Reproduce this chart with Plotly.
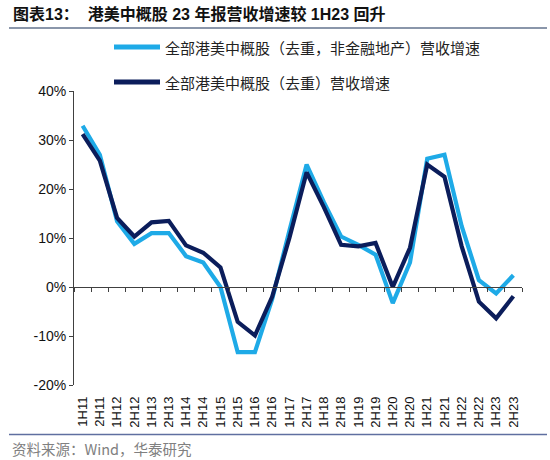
import plotly.graph_objects as go

periods = ["1H11", "2H11", "1H12", "2H12", "1H13", "2H13", "1H14", "2H14", "1H15", "2H15",
           "1H16", "2H16", "1H17", "2H17", "1H18", "2H18", "1H19", "2H19", "1H20", "2H20",
           "1H21", "2H21", "1H22", "2H22", "1H23", "2H23"]
non_fin = [32.9, 27.0, 13.4, 8.8, 11.0, 11.0, 6.3, 5.0, 0.0, -13.3,
           -13.3, -2.5, 11.5, 25.0, 17.3, 10.3, 8.6, 6.6, -3.3, 5.0,
           26.2, 27.0, 12.4, 1.4, -1.3, 2.4]
all_cos = [31.2, 25.8, 14.1, 10.3, 13.2, 13.5, 8.5, 7.0, 4.0, -7.1,
           -9.9, -2.0, 10.0, 23.4, 16.3, 8.6, 8.3, 9.0, 0.0, 8.0,
           25.0, 22.5, 8.3, -3.0, -6.4, -1.9]
name_non_fin = "全部港美中概股（去重，非金融地产）营收增速"
name_all = "全部港美中概股（去重）营收增速"
y_ticks = [-20, -10, 0, 10, 20, 30, 40]
y_ticktext = [f"{v}%" for v in y_ticks]

LIGHT = "#1EAAE7"
DARK = "#0B1D5B"
AXIS = "#404040"
LATIN = "Liberation Sans, Arial, Noto Sans CJK SC"
CJK = "Noto Sans CJK SC, Liberation Sans"

# plot area in pixels: x 74..522, y 91..385
L, R, T, B = 74, 522, 91, 385
W, H = R - L, B - T


def px(x):
    return (x - L) / W


def py(y):
    return (B - y) / H


fig = go.Figure()
# zero-line axis helper (invisible)
fig.add_trace(go.Scatter(x=periods, y=[0] * len(periods), mode="lines",
                         line=dict(width=0, color="rgba(0,0,0,0)"),
                         xaxis="x2", yaxis="y", hoverinfo="skip", showlegend=False))
fig.add_trace(go.Scatter(x=periods, y=non_fin, mode="lines", name=name_non_fin,
                         line=dict(color=LIGHT, width=4.2)))
fig.add_trace(go.Scatter(x=periods, y=all_cos, mode="lines", name=name_all,
                         line=dict(color=DARK, width=4.2)))

shapes = [
    dict(type="line", xref="paper", yref="paper", x0=px(9), x1=px(547), y0=py(28), y1=py(28),
         line=dict(color="#8A96AA", width=2)),
    dict(type="line", xref="paper", yref="paper", x0=px(9), x1=px(547), y0=py(434.5), y1=py(434.5),
         line=dict(color="#5F6FA0", width=1.5)),
    dict(type="line", xref="paper", yref="paper", x0=px(114), x1=px(160), y0=py(47), y1=py(47),
         line=dict(color=LIGHT, width=5)),
    dict(type="line", xref="paper", yref="paper", x0=px(114), x1=px(160), y0=py(82), y1=py(82),
         line=dict(color=DARK, width=5)),
]

annotations = [
    dict(text="<b>图表13：  港美中概股 23 年报营收增速较 1H23 回升</b>", xref="paper", yref="paper",
         x=px(11), y=py(14), xanchor="left", yanchor="middle", showarrow=False,
         font=dict(family=LATIN, size=16, color="#111111")),
    dict(text=name_non_fin, xref="paper", yref="paper", x=px(163), y=py(47),
         xanchor="left", yanchor="middle", showarrow=False,
         font=dict(family=CJK, size=15, color="#222222")),
    dict(text=name_all, xref="paper", yref="paper", x=px(163), y=py(82),
         xanchor="left", yanchor="middle", showarrow=False,
         font=dict(family=CJK, size=15, color="#222222")),
    dict(text="资料来源：Wind，华泰研究", xref="paper", yref="paper", x=px(10), y=py(448),
         xanchor="left", yanchor="middle", showarrow=False,
         font=dict(family=CJK, size=14.5, color="#808080")),
]

fig.update_layout(
    width=550, height=460,
    margin=dict(l=L, r=550 - R, t=T, b=460 - B, pad=0),
    paper_bgcolor="white", plot_bgcolor="white",
    showlegend=False,
    shapes=shapes, annotations=annotations,
    xaxis=dict(type="category", categoryarray=periods, categoryorder="array",
               range=[-0.5, len(periods) - 0.5], showline=False, ticks="",
               tickangle=-90, tickfont=dict(family=LATIN, size=13, color="#111111"),
               showgrid=False, zeroline=False, ticklabelstandoff=8),
    xaxis2=dict(type="category", categoryarray=periods, categoryorder="array",
                range=[-0.5, len(periods) - 0.5], overlaying="x", anchor="free",
                position=20 / 60, showline=True, linecolor=AXIS, linewidth=1,
                ticks="outside", ticklen=4, tickcolor=AXIS, tickson="boundaries",
                showticklabels=False, showgrid=False, zeroline=False),
    yaxis=dict(range=[-20, 40], tickvals=y_ticks, ticktext=y_ticktext,
               ticks="outside", ticklen=4, tickcolor=AXIS, showline=True,
               linecolor=AXIS, linewidth=1, showgrid=False, zeroline=False,
               tickfont=dict(family=LATIN, size=14, color="#111111")),
)

fig.write_html("out.html", config={"displayModeBar": False},
               post_script="document.body.style.margin='0';document.body.style.overflow='hidden';")
